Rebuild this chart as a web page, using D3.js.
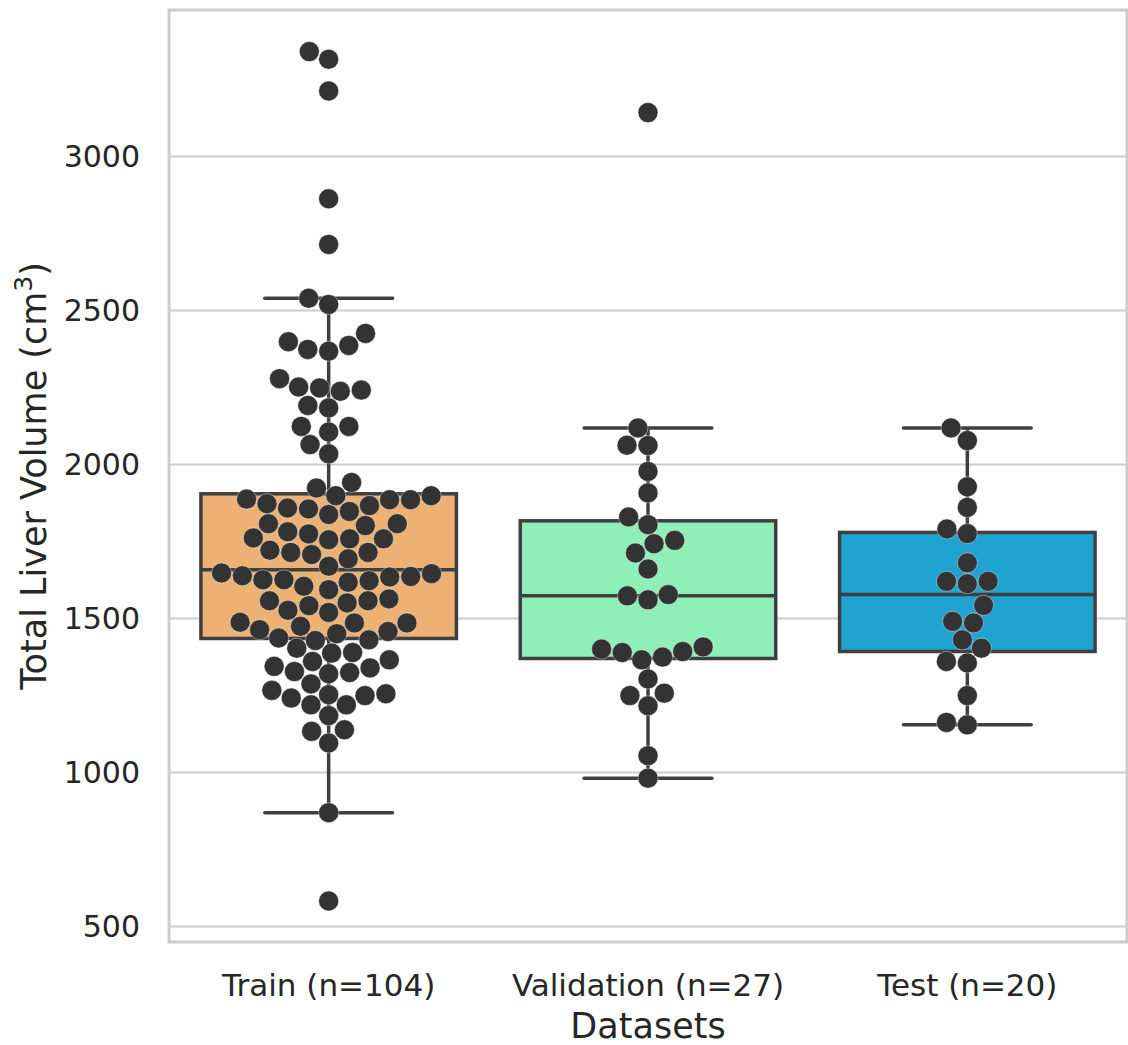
<!DOCTYPE html>
<html>
<head>
  <meta charset="utf-8">
  <title>Total Liver Volume</title>
  <script src="https://d3js.org/d3.v7.min.js"></script>
  <style>
body { margin: 0; background: #fff; }
text { font-family: "DejaVu Sans", sans-serif; fill: #262626; }
  </style>
</head>
<body>
<div id="chart"></div>
<script>
// values (cm^3)
var categories = ["Train (n=104)", "Validation (n=27)", "Test (n=20)"];
var trainVol = [3341, 3316, 3213, 2863, 2715, 2540, 2520,
  2399, 2374, 2368, 2387, 2426, 2279, 2252, 2249, 2238, 2242, 2192, 2184, 2124, 2106,
  2124, 2065, 2035, 1924, 1942, 1899, 1886, 1886, 1899, 1888, 1873, 1867, 1859, 1856,
  1838, 1848, 1808, 1808, 1802, 1782, 1775, 1762, 1756, 1759, 1759, 1722, 1715, 1708,
  1715, 1694, 1670, 1648, 1639, 1637, 1626, 1626, 1635, 1646, 1623, 1618, 1605, 1594,
  1564, 1558, 1558, 1542, 1551, 1527, 1520,
  1486, 1464, 1475, 1486, 1488, 1437, 1429, 1451, 1431, 1458, 1404, 1388, 1390, 1361,
  1366, 1345, 1328, 1321, 1325, 1340, 1288, 1256, 1250, 1253, 1242, 1267, 1220, 1220,
  1185, 1134, 1139, 1096, 870, 583];
var validationVol = [3143, 2119, 2063, 2062, 1978, 1908, 1830, 1805, 1754, 1743, 1713,
  1661, 1574, 1578, 1561, 1401, 1390, 1408, 1393, 1375, 1366, 1304, 1250, 1258, 1217,
  1055, 982];
var testVol = [2119, 2078, 1928, 1861, 1791, 1776, 1681, 1621, 1613, 1621, 1543, 1491,
  1486, 1431, 1404, 1361, 1356, 1250, 1163, 1155];
var boxColors = ["#EDB273", "#8EF0B6", "#1FA3D1"];
var yTicks = [500, 1000, 1500, 2000, 2500, 3000];

var groups = [trainVol, validationVol, testVol];

var W = 1128, H = 1045;
var plotL = 169, plotR = 1127, plotT = 10, plotB = 942;
var r = 10;
var lineCol = "#3f3f3f";

var svg = d3.select("#chart").append("svg")
  .attr("width", W)
  .attr("height", H);

var x = d3.scaleBand().domain(categories).range([plotL, plotR]);
var y = d3.scaleLinear().domain([450, 3476]).range([plotB, plotT]);

// grid
svg.append("g").selectAll("line").data(yTicks).enter()
  .append("line")
    .attr("x1", plotL).attr("x2", plotR)
    .attr("y1", d => y(d)).attr("y2", d => y(d))
    .attr("stroke", "#cccccc")
    .attr("stroke-width", 2);

// y axis
var yAxis = svg.append("g")
  .attr("transform", "translate(" + plotL + ",0)")
  .call(d3.axisLeft(y).tickValues(yTicks).tickSize(0).tickPadding(29).tickFormat(d3.format("d")));
yAxis.select(".domain").remove();
yAxis.selectAll("text").style("font-size", "30px").style("font-family", "DejaVu Sans").attr("fill", "#262626");

// x tick labels
svg.append("g").selectAll("text").data(categories).enter()
  .append("text")
    .attr("x", d => x(d) + x.bandwidth() / 2)
    .attr("y", 996)
    .attr("text-anchor", "middle")
    .style("font-size", "31px")
    .text(d => d);

svg.append("text")
  .attr("x", (plotL + plotR) / 2)
  .attr("y", 1038)
  .attr("text-anchor", "middle")
  .style("font-size", "35px")
  .text("Datasets");

var yl = svg.append("text")
  .attr("transform", "translate(46," + ((plotT + plotB) / 2) + ") rotate(-90)")
  .attr("text-anchor", "middle")
  .style("font-size", "35px");
yl.append("tspan").text("Total Liver Volume (cm");
yl.append("tspan").attr("baseline-shift", "super").style("font-size", "25px").text("3");
yl.append("tspan").text(")");

// box stats like seaborn / numpy
function stats(vals) {
  var s = vals.slice().sort(d3.ascending);
  var q1 = d3.quantile(s, 0.25), med = d3.quantile(s, 0.5), q3 = d3.quantile(s, 0.75);
  var iqr = q3 - q1;
  var lo = d3.min(s.filter(v => v >= q1 - 1.5 * iqr));
  var hi = d3.max(s.filter(v => v <= q3 + 1.5 * iqr));
  return {q1: q1, med: med, q3: q3, lo: lo, hi: hi};
}

var boxW = x.bandwidth() * 0.8;
groups.forEach(function(vals, i) {
  var st = stats(vals);
  var cx = x(categories[i]) + x.bandwidth() / 2;
  var g = svg.append("g");
  g.append("line").attr("x1", cx).attr("x2", cx).attr("y1", y(st.q1)).attr("y2", y(st.lo))
    .attr("stroke", lineCol).attr("stroke-width", 3.5);
  g.append("line").attr("x1", cx).attr("x2", cx).attr("y1", y(st.q3)).attr("y2", y(st.hi))
    .attr("stroke", lineCol).attr("stroke-width", 3.5);
  [st.lo, st.hi].forEach(function(v) {
    g.append("line").attr("x1", cx - boxW / 4).attr("x2", cx + boxW / 4)
      .attr("y1", y(v)).attr("y2", y(v))
      .attr("stroke", lineCol).attr("stroke-width", 3.5).attr("stroke-linecap", "round");
  });
  g.append("rect")
    .attr("x", cx - boxW / 2).attr("width", boxW)
    .attr("y", y(st.q3)).attr("height", y(st.q1) - y(st.q3))
    .attr("fill", boxColors[i])
    .attr("stroke", lineCol).attr("stroke-width", 3.5);
  g.append("line").attr("x1", cx - boxW / 2).attr("x2", cx + boxW / 2)
    .attr("y1", y(st.med)).attr("y2", y(st.med))
    .attr("stroke", lineCol).attr("stroke-width", 3.5);
});

// swarm placement, same idea as seaborn's Beeswarm
function beeswarm(vals, cx) {
  var pts = vals.map(v => ({v: v, x: cx, y: y(v)})).sort((a, b) => a.v - b.v);
  var swarm = [];
  pts.forEach(function(p) {
    var nb = [];
    for (var j = swarm.length - 1; j >= 0; j--) {
      if (Math.abs(swarm[j].y - p.y) < 2 * r) nb.push(swarm[j]); else break;
    }
    nb.reverse();
    var cands = [cx];
    var leftFirst = true;
    nb.forEach(function(q) {
      var dy = p.y - q.y;
      var dx = Math.sqrt(Math.max(4 * r * r - dy * dy, 0)) * 1.05;
      if (leftFirst) cands.push(q.x - dx, q.x + dx); else cands.push(q.x + dx, q.x - dx);
      leftFirst = !leftFirst;
    });
    cands.sort((a, b) => Math.abs(a - cx) - Math.abs(b - cx));
    for (var k = 0; k < cands.length; k++) {
      var c = cands[k];
      if (nb.every(q => (q.x - c) * (q.x - c) + (q.y - p.y) * (q.y - p.y) >= 4 * r * r)) { p.x = c; break; }
    }
    swarm.push(p);
  });
  return swarm;
}

groups.forEach(function(vals, i) {
  var cx = x(categories[i]) + x.bandwidth() / 2;
  svg.append("g").selectAll("circle").data(beeswarm(vals, cx)).enter()
    .append("circle")
      .attr("cx", d => d.x)
      .attr("cy", d => d.y)
      .attr("r", r)
      .attr("fill", "#333333")
      .attr("stroke", "#ffffff")
      .attr("stroke-width", 0.4);
});

// frame
svg.append("rect")
  .attr("x", plotL).attr("y", plotT)
  .attr("width", plotR - plotL).attr("height", plotB - plotT)
  .attr("fill", "none")
  .attr("stroke", "#cccccc")
  .attr("stroke-width", 3);
</script>
</body>
</html>
